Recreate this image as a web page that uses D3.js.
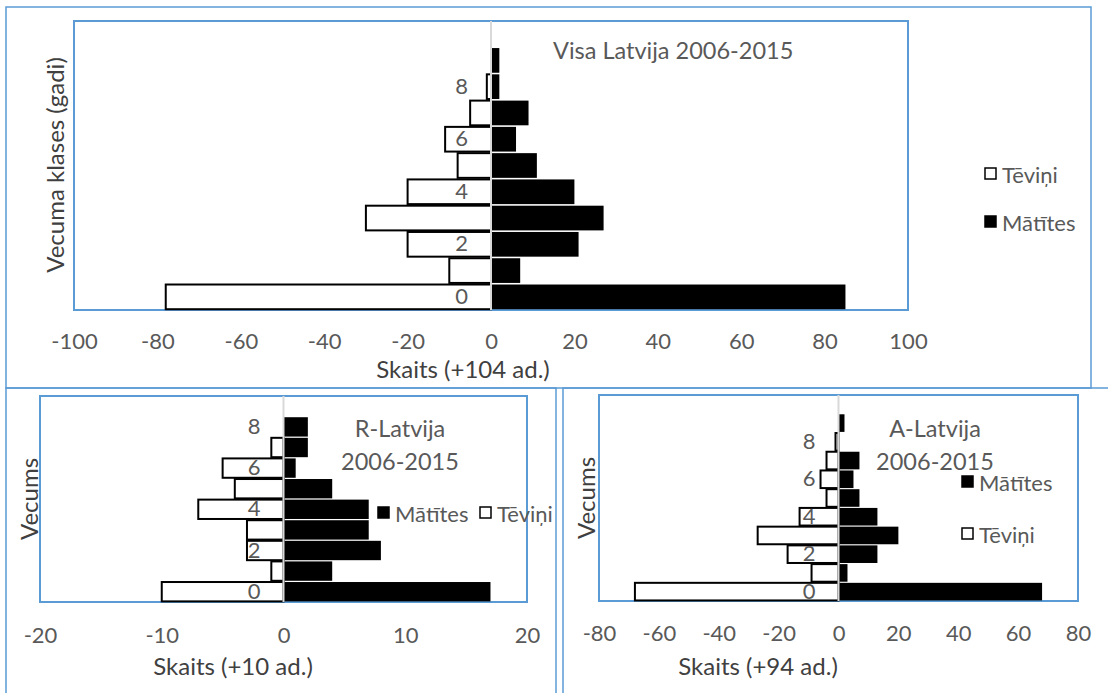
<!DOCTYPE html>
<html>
<head>
<meta charset="utf-8">
<script src="https://cdn.jsdelivr.net/npm/d3@7"></script>
<style>
  body { margin: 0; background: #fff; }
  svg text { font-family: Lato, "Open Sans", sans-serif; fill: #595959; }
</style>
</head>
<body>
<div id="chart"></div>
<script>
// age classes (years); one empty slot above the last one, like the original
const visaAges = ['0', '1', '2', '3', '4', '5', '6', '7', '8', '9', '10'];
const rAges = ['0', '1', '2', '3', '4', '5', '6', '7', '8', '9'];
const aAges = ['0', '1', '2', '3', '4', '5', '6', '7', '8', '9', '10'];

// Tēviņi (negative side) and Mātītes per age class
const visaMale = [-78, -10, -20, -30, -20, -8, -11, -5, -1, 0];
const visaFemale = [85, 7, 21, 27, 20, 11, 6, 9, 2, 2];
const rMale = [-10, -1, -3, -3, -7, -4, -5, -1, 0];
const rFemale = [17, 4, 8, 7, 7, 4, 1, 2, 2];
const aMale = [-68, -9, -17, -27, -13, -4, -6, -4, -1, 0];
const aFemale = [68, 3, 13, 20, 13, 7, 5, 7, 0, 2];

const visaTicks = [-100, -80, -60, -40, -20, 0, 20, 40, 60, 80, 100];
const rTicks = [-20, -10, 0, 10, 20];
const aTicks = [-80, -60, -40, -20, 0, 20, 40, 60, 80];

const blue = '#5B9BD5';
const svg = d3.select('#chart').append('svg')
  .attr('width', 1108)
  .attr('height', 693);

// panel frames
svg.append('rect').attr('x', 6).attr('y', 7).attr('width', 1085).attr('height', 381)
  .attr('fill', 'none').attr('stroke', blue).attr('stroke-width', 1.5);
svg.append('rect').attr('x', 6).attr('y', 388).attr('width', 550).attr('height', 320)
  .attr('fill', 'none').attr('stroke', blue).attr('stroke-width', 1.5);
svg.append('rect').attr('x', 563).attr('y', 388).attr('width', 560).attr('height', 320)
  .attr('fill', 'none').attr('stroke', blue).attr('stroke-width', 1.5);

function drawPyramid(cfg) {
  const x = d3.scaleLinear()
    .domain([cfg.ticks[0], cfg.ticks[cfg.ticks.length - 1]])
    .range([cfg.left, cfg.right]);
  const y = d3.scaleBand()
    .domain(cfg.ages)
    .range([cfg.bottom, cfg.top])
    .paddingInner(0.06)
    .paddingOuter(0.03);

  const g = svg.append('g');

  g.append('rect')
    .attr('x', cfg.left).attr('y', cfg.top)
    .attr('width', cfg.right - cfg.left).attr('height', cfg.bottom - cfg.top)
    .attr('fill', 'none').attr('stroke', blue).attr('stroke-width', 2);

  // Tēviņi
  g.selectAll('.male')
    .data(cfg.male)
    .enter().append('rect')
    .attr('class', 'male')
    .attr('x', (d) => x(d))
    .attr('y', (d, i) => y(cfg.ages[i]))
    .attr('width', (d) => x(0) - x(d))
    .attr('height', y.bandwidth())
    .attr('fill', '#fff')
    .attr('stroke', (d) => d === 0 ? 'none' : '#000')
    .attr('stroke-width', 2);

  // Mātītes
  g.selectAll('.female')
    .data(cfg.female)
    .enter().append('rect')
    .attr('class', 'female')
    .attr('x', x(0))
    .attr('y', (d, i) => y(cfg.ages[i]))
    .attr('width', (d) => x(d) - x(0))
    .attr('height', y.bandwidth())
    .attr('fill', '#000');

  // zero line
  g.append('line')
    .attr('x1', x(0)).attr('x2', x(0))
    .attr('y1', cfg.top).attr('y2', cfg.bottom)
    .attr('stroke', '#d9d9d9').attr('stroke-width', 2);

  // category labels next to the zero line
  const yAxis = g.append('g')
    .attr('transform', `translate(${x(0)},0)`)
    .call(d3.axisLeft(y)
      .tickSize(0)
      .tickPadding(23)
      .tickFormat((d) => (+d % 2 === 0 && +d < 10) ? d : ''));
  yAxis.select('.domain').remove();
  yAxis.selectAll('text').attr('font-size', 22).attr('fill', '#595959');

  const xAxis = g.append('g')
    .attr('transform', `translate(0,${cfg.bottom})`)
    .call(d3.axisBottom(x)
      .tickValues(cfg.ticks)
      .tickFormat((d) => String(d))
      .tickSize(0)
      .tickPadding(cfg.tickPad));
  xAxis.select('.domain').remove();
  xAxis.selectAll('text').attr('font-size', 22).attr('fill', '#595959');

  g.append('text')
    .attr('x', cfg.xTitle[0]).attr('y', cfg.xTitle[1])
    .attr('text-anchor', 'middle')
    .attr('dominant-baseline', 'central')
    .attr('font-size', 24)
    .style('fill', '#404040')
    .text(cfg.xLabel);

  g.append('text')
    .attr('transform', `translate(${cfg.yTitle[0]},${cfg.yTitle[1]}) rotate(-90)`)
    .attr('text-anchor', 'middle')
    .attr('dominant-baseline', 'central')
    .attr('font-size', 24)
    .style('fill', '#404040')
    .text(cfg.yLabel);

  cfg.title.forEach((t) => {
    g.append('text')
      .attr('x', t[1]).attr('y', t[2])
      .attr('text-anchor', t[3])
      .attr('dominant-baseline', 'central')
      .attr('font-size', 23.5)
      .text(t[0]);
  });

  cfg.legend.forEach((l) => {
    g.append('rect')
      .attr('x', l[1]).attr('y', l[2] - 6)
      .attr('width', 11).attr('height', 11)
      .attr('fill', l[0] === 'Mātītes' ? '#000' : '#fff')
      .attr('stroke', '#000').attr('stroke-width', 1.5);
    g.append('text')
      .attr('x', l[1] + 17).attr('y', l[2])
      .attr('dominant-baseline', 'central')
      .attr('font-size', 22)
      .text(l[0]);
  });
}

drawPyramid({
  ages: visaAges, male: visaMale, female: visaFemale, ticks: visaTicks,
  left: 74, right: 908, top: 21, bottom: 310, tickPad: 23,
  xLabel: 'Skaits (+104 ad.)', xTitle: [463, 368],
  yLabel: 'Vecuma klases (gadi)', yTitle: [54, 165],
  title: [['Visa Latvija 2006-2015', 553, 50, 'start']],
  legend: [['Tēviņi', 985, 174], ['Mātītes', 985, 222]]
});

drawPyramid({
  ages: rAges, male: rMale, female: rFemale, ticks: rTicks,
  left: 40, right: 527, top: 396, bottom: 602, tickPad: 25,
  xLabel: 'Skaits (+10 ad.)', xTitle: [233, 665],
  yLabel: 'Vecums', yTitle: [28, 499],
  title: [['R-Latvija', 400, 428, 'middle'], ['2006-2015', 400, 461, 'middle']],
  legend: [['Mātītes', 378, 513], ['Tēviņi', 480, 513]]
});

drawPyramid({
  ages: aAges, male: aMale, female: aFemale, ticks: aTicks,
  left: 599, right: 1078, top: 395, bottom: 601, tickPad: 24,
  xLabel: 'Skaits (+94 ad.)', xTitle: [758, 665],
  yLabel: 'Vecums', yTitle: [585, 498],
  title: [['A-Latvija', 935, 428, 'middle'], ['2006-2015', 935, 461, 'middle']],
  legend: [['Mātītes', 962, 482], ['Tēviņi', 962, 534]]
});
</script>
</body>
</html>
